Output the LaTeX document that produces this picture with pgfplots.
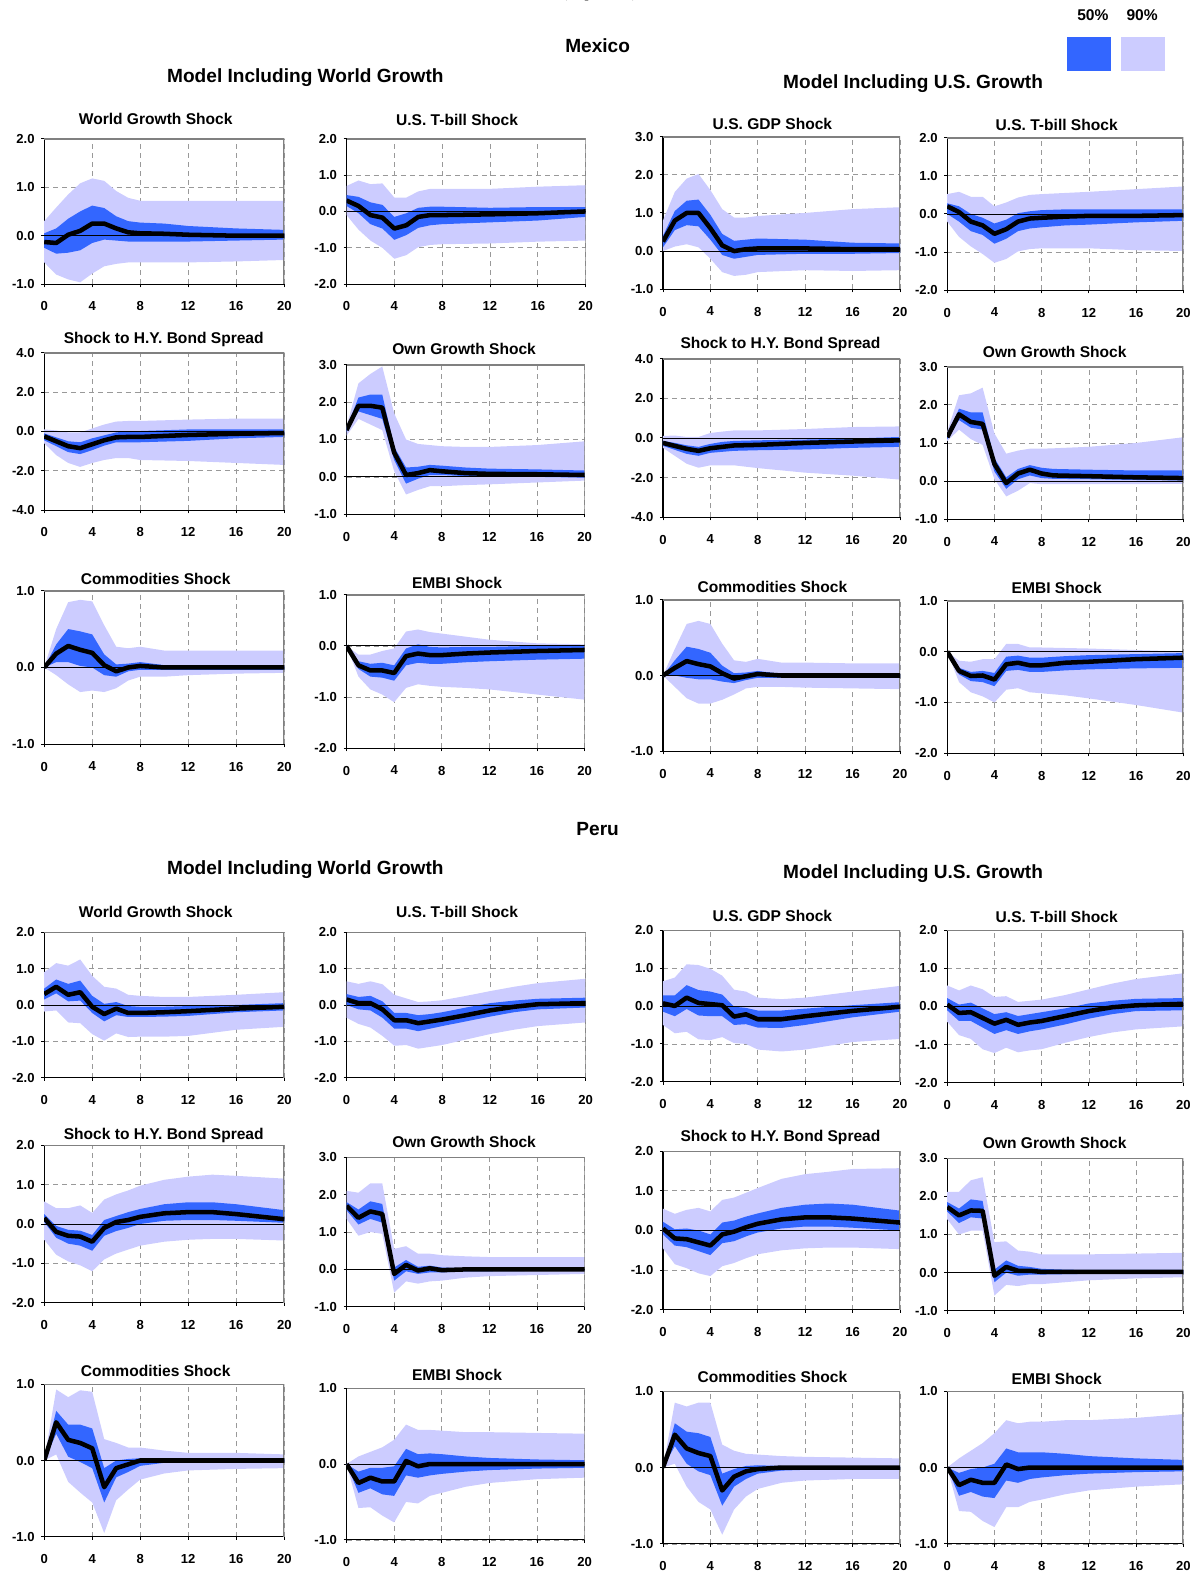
\documentclass[border=0pt]{standalone}
\usepackage{pgfplots}
\pgfplotsset{compat=1.18}
\usepackage{pgfplotstable}
\usepackage{fontspec}
\setmainfont{Liberation Sans}
\newfontfamily\serifpart{Liberation Serif}
\definecolor{blu}{RGB}{51,102,255}
\definecolor{lav}{RGB}{204,204,255}
\newcommand\ticfont{\bfseries\fontsize{13}{13}\selectfont}
\newcommand\ptfont{\bfseries\fontsize{15.5}{16}\selectfont}
\newcommand\hdfont{\bfseries\fontsize{19}{21}\selectfont}
\pgfplotsset{irf/.style={
  scale only axis, xmin=0, xmax=20, xtick={0,4,8,12,16,20},
  axis x line*=bottom, axis y line*=left,
  axis line style={draw=black, line width=1.1pt, -},
  grid=major, grid style={dash pattern=on 5pt off 4pt, draw=black!40, line width=0.7pt},
  tick style={draw=black, line width=0.9pt},
  major tick length=3pt, tick align=outside,
  /pgf/number format/assume math mode=true,
  ticklabel style={font=\ticfont},
  yticklabel style={/pgf/number format/fixed, /pgf/number format/fixed zerofill, /pgf/number format/precision=1, xshift=-3pt},
  xticklabel style={yshift=-11pt},
  every axis plot/.append style={no markers},
}}
\newcommand\panel[8]{%
\begin{axis}[irf, at={(#1pt,-#2pt)}, anchor=north west, width=#3pt, height=#4pt, ymin=#5, ymax=#6, ytick={#7}]
\addplot[draw=none, stack plots=y] table[x=x,y=l9]{#8};
\addplot[draw=none, fill=lav, stack plots=y] table[x=x,y expr=\thisrow{u9}-\thisrow{l9}]{#8} \closedcycle;
\addplot[draw=none, stack plots=y] table[x=x,y expr=\thisrow{l5}-\thisrow{u9}]{#8};
\addplot[draw=none, fill=blu, stack plots=y] table[x=x,y expr=\thisrow{u5}-\thisrow{l5}]{#8} \closedcycle;
\addplot[black!50, line width=2pt] coordinates {(0,#6) (20,#6) (20,#5)};
\addplot[black, line width=0.8pt] coordinates {(0,0) (20,0)};
\addplot[black, line width=4.5pt, line join=round] table[x=x,y=m]{#8};
\end{axis}}
% ---------------- Mexico ----------------
\pgfplotstableread{
x l9 l5 m u5 u9
0 -0.55 -0.25 -0.13 0.05 0.30
1 -0.80 -0.37 -0.15 0.15 0.58
2 -0.90 -0.35 0.02 0.35 0.85
3 -0.96 -0.30 0.10 0.50 1.08
4 -0.78 -0.15 0.25 0.62 1.18
5 -0.63 -0.08 0.25 0.57 1.13
6 -0.58 -0.10 0.15 0.40 0.92
7 -0.55 -0.12 0.07 0.30 0.78
8 -0.55 -0.12 0.05 0.27 0.72
10 -0.55 -0.12 0.04 0.25 0.72
12 -0.55 -0.12 0.02 0.20 0.72
16 -0.53 -0.10 0.00 0.15 0.72
20 -0.50 -0.08 0.00 0.12 0.72
}\MA
\pgfplotstableread{
x l9 l5 m u5 u9
0 -0.10 0.15 0.30 0.45 0.70
1 -0.50 -0.05 0.15 0.40 0.85
2 -0.80 -0.35 -0.10 0.25 0.75
3 -1.00 -0.47 -0.17 0.18 0.77
4 -1.30 -0.78 -0.47 -0.15 0.38
5 -1.20 -0.65 -0.38 -0.05 0.38
6 -0.98 -0.45 -0.15 0.10 0.55
7 -0.92 -0.38 -0.10 0.13 0.62
8 -0.90 -0.35 -0.10 0.13 0.62
12 -0.88 -0.30 -0.08 0.10 0.62
16 -0.83 -0.25 -0.05 0.12 0.68
20 -0.80 -0.15 0.00 0.12 0.72
}\MB
\pgfplotstableread{
x l9 l5 m u5 u9
0 0.00 0.10 0.25 0.40 0.80
1 0.12 0.55 0.80 1.05 1.55
2 0.18 0.68 1.00 1.32 1.90
3 0.10 0.65 1.00 1.35 2.02
4 -0.20 0.30 0.60 0.95 1.60
5 -0.55 -0.10 0.15 0.45 1.10
6 -0.65 -0.20 0.00 0.27 0.88
7 -0.62 -0.15 0.05 0.30 0.88
8 -0.55 -0.10 0.07 0.33 0.92
12 -0.50 -0.07 0.07 0.30 1.00
16 -0.52 -0.07 0.05 0.22 1.10
20 -0.50 -0.05 0.05 0.20 1.15
}\MC
\pgfplotstableread{
x l9 l5 m u5 u9
0 -0.20 0.00 0.20 0.28 0.52
1 -0.60 -0.20 0.05 0.20 0.58
2 -0.85 -0.45 -0.20 0.00 0.45
3 -1.05 -0.55 -0.30 -0.10 0.45
4 -1.28 -0.78 -0.52 -0.25 0.20
5 -1.18 -0.65 -0.40 -0.15 0.30
6 -0.98 -0.45 -0.20 0.02 0.43
7 -0.92 -0.38 -0.12 0.07 0.50
8 -0.90 -0.35 -0.10 0.10 0.52
10 -0.90 -0.30 -0.07 0.12 0.55
12 -0.90 -0.28 -0.05 0.12 0.58
16 -0.95 -0.22 -0.05 0.12 0.65
20 -0.97 -0.18 -0.03 0.12 0.72
}\MD
\pgfplotstableread{
x l9 l5 m u5 u9
0 -0.60 -0.45 -0.25 -0.10 0.10
1 -1.20 -0.75 -0.50 -0.30 0.05
2 -1.60 -1.05 -0.75 -0.50 -0.05
3 -1.80 -1.15 -0.85 -0.55 -0.05
4 -1.60 -0.95 -0.65 -0.35 0.15
5 -1.45 -0.72 -0.45 -0.20 0.35
6 -1.35 -0.55 -0.30 -0.05 0.50
7 -1.35 -0.55 -0.28 0.00 0.53
8 -1.45 -0.55 -0.28 0.02 0.53
12 -1.50 -0.48 -0.18 0.10 0.60
16 -1.60 -0.35 -0.12 0.10 0.65
20 -1.70 -0.28 -0.08 0.10 0.65
}\ME
\pgfplotstableread{
x l9 l5 m u5 u9
0 1.10 1.20 1.25 1.30 1.35
1 1.55 1.75 1.90 2.12 2.50
2 1.40 1.65 1.90 2.20 2.75
3 1.25 1.55 1.85 2.20 2.95
4 0.15 0.45 0.65 0.80 1.70
5 -0.47 -0.18 0.05 0.25 1.00
6 -0.35 -0.05 0.10 0.27 0.88
7 -0.25 0.05 0.18 0.32 0.85
8 -0.25 0.05 0.15 0.30 0.82
10 -0.22 0.02 0.10 0.25 0.80
12 -0.20 0.00 0.08 0.22 0.80
16 -0.15 0.00 0.07 0.20 0.85
20 -0.10 -0.02 0.05 0.17 0.95
}\MF
\pgfplotstableread{
x l9 l5 m u5 u9
0 -0.50 -0.40 -0.25 -0.15 0.10
1 -0.90 -0.60 -0.40 -0.25 0.12
2 -1.30 -0.80 -0.55 -0.37 0.05
3 -1.50 -0.90 -0.65 -0.45 0.05
4 -1.38 -0.75 -0.52 -0.30 0.25
5 -1.38 -0.70 -0.45 -0.20 0.32
6 -1.38 -0.65 -0.38 -0.15 0.38
8 -1.52 -0.62 -0.35 -0.12 0.38
12 -1.75 -0.58 -0.25 -0.08 0.45
16 -1.90 -0.50 -0.18 -0.03 0.55
20 -2.10 -0.45 -0.12 0.05 0.58
}\MG
\pgfplotstableread{
x l9 l5 m u5 u9
0 1.05 1.10 1.15 1.20 1.30
1 1.35 1.60 1.75 1.90 2.25
2 1.10 1.40 1.55 1.80 2.30
3 0.95 1.35 1.50 1.80 2.45
4 0.05 0.25 0.45 0.60 1.25
5 -0.40 -0.20 -0.05 0.10 0.72
6 -0.25 0.05 0.20 0.32 0.80
7 -0.05 0.15 0.30 0.42 0.85
8 -0.08 0.08 0.20 0.35 0.85
9 -0.08 0.06 0.15 0.32 0.86
12 -0.08 0.05 0.13 0.30 0.90
16 -0.08 0.03 0.10 0.28 1.00
20 -0.07 0.02 0.08 0.28 1.15
}\MH
\pgfplotstableread{
x l9 l5 m u5 u9
0 0.00 0.00 0.00 0.00 0.00
1 -0.10 0.07 0.18 0.30 0.50
2 -0.22 0.07 0.28 0.50 0.85
3 -0.32 0.02 0.23 0.47 0.88
4 -0.30 0.00 0.19 0.43 0.86
5 -0.32 -0.10 0.03 0.17 0.55
6 -0.27 -0.12 -0.05 0.04 0.27
7 -0.17 -0.05 0.00 0.05 0.25
8 -0.12 -0.03 0.02 0.07 0.27
10 -0.12 -0.03 0.00 0.03 0.22
12 -0.10 -0.03 0.00 0.02 0.22
16 -0.08 -0.03 0.00 0.02 0.22
20 -0.07 -0.03 0.00 0.02 0.22
}\MI
\pgfplotstableread{
x l9 l5 m u5 u9
0 0.00 0.00 0.00 0.00 0.00
1 -0.60 -0.45 -0.38 -0.30 -0.17
2 -0.85 -0.60 -0.48 -0.35 -0.17
3 -0.95 -0.62 -0.48 -0.33 -0.10
4 -1.10 -0.68 -0.53 -0.38 -0.05
5 -0.82 -0.38 -0.20 -0.05 0.28
6 -0.75 -0.33 -0.15 0.03 0.32
7 -0.78 -0.35 -0.18 -0.02 0.27
8 -0.80 -0.35 -0.18 -0.03 0.24
10 -0.82 -0.32 -0.15 -0.02 0.18
12 -0.85 -0.30 -0.13 -0.02 0.12
16 -0.95 -0.27 -0.10 0.00 0.05
20 -1.05 -0.25 -0.08 0.00 0.03
}\MJ
\pgfplotstableread{
x l9 l5 m u5 u9
0 0.00 0.00 0.00 0.00 0.00
1 -0.15 0.00 0.10 0.20 0.35
2 -0.30 -0.03 0.19 0.38 0.68
3 -0.37 -0.05 0.15 0.35 0.72
4 -0.37 -0.05 0.12 0.30 0.68
5 -0.32 -0.08 0.03 0.13 0.42
6 -0.25 -0.10 -0.04 0.03 0.20
7 -0.17 -0.06 -0.01 0.04 0.18
8 -0.15 -0.03 0.02 0.06 0.22
10 -0.15 -0.03 0.00 0.02 0.17
12 -0.16 -0.03 0.00 0.02 0.17
16 -0.17 -0.03 0.00 0.02 0.16
20 -0.18 -0.03 0.00 0.02 0.16
}\MK
\pgfplotstableread{
x l9 l5 m u5 u9
0 0.00 0.00 0.00 0.00 0.00
1 -0.60 -0.45 -0.38 -0.32 -0.18
2 -0.80 -0.58 -0.48 -0.40 -0.20
3 -0.88 -0.60 -0.47 -0.38 -0.15
4 -1.00 -0.68 -0.55 -0.42 -0.15
5 -0.75 -0.38 -0.25 -0.10 0.15
6 -0.72 -0.36 -0.22 -0.08 0.15
7 -0.80 -0.40 -0.27 -0.12 0.08
8 -0.82 -0.40 -0.27 -0.12 0.08
10 -0.86 -0.37 -0.22 -0.09 0.07
12 -0.92 -0.35 -0.20 -0.07 0.06
16 -1.05 -0.33 -0.15 -0.05 0.03
20 -1.20 -0.32 -0.12 -0.03 0.00
}\ML
% ---------------- Peru ----------------
\pgfplotstableread{
x l9 l5 m u5 u9
0 -0.18 0.15 0.30 0.45 0.90
1 -0.15 0.32 0.50 0.70 1.15
2 -0.48 0.10 0.28 0.58 1.08
3 -0.50 0.12 0.35 0.67 1.25
4 -0.80 -0.22 -0.05 0.25 0.80
5 -0.98 -0.45 -0.25 0.03 0.50
6 -0.78 -0.28 -0.10 0.08 0.45
7 -0.88 -0.33 -0.22 -0.03 0.28
8 -0.87 -0.33 -0.22 -0.05 0.25
10 -0.87 -0.32 -0.20 -0.05 0.22
12 -0.85 -0.30 -0.17 -0.03 0.22
16 -0.68 -0.20 -0.10 0.00 0.28
20 -0.60 -0.15 -0.05 0.05 0.35
}\PA
\pgfplotstableread{
x l9 l5 m u5 u9
0 -0.35 0.00 0.15 0.30 0.65
1 -0.52 -0.12 0.05 0.22 0.58
2 -0.62 -0.15 0.05 0.25 0.65
3 -0.85 -0.35 -0.12 0.10 0.57
4 -1.12 -0.65 -0.42 -0.22 0.28
5 -1.10 -0.65 -0.42 -0.22 0.18
6 -1.20 -0.72 -0.50 -0.28 0.08
7 -1.15 -0.65 -0.45 -0.25 0.10
8 -1.10 -0.58 -0.40 -0.20 0.13
10 -0.95 -0.45 -0.28 -0.07 0.25
12 -0.80 -0.32 -0.15 0.05 0.38
14 -0.68 -0.20 -0.05 0.12 0.50
16 -0.58 -0.12 0.02 0.17 0.60
20 -0.48 -0.07 0.05 0.20 0.72
}\PB
\pgfplotstableread{
x l9 l5 m u5 u9
0 -0.50 -0.15 0.07 0.28 0.65
1 -0.72 -0.27 0.00 0.28 0.75
2 -0.68 -0.08 0.22 0.55 1.10
3 -0.88 -0.25 0.08 0.42 1.08
4 -0.90 -0.27 0.05 0.38 0.98
5 -0.82 -0.27 0.02 0.30 0.80
6 -0.98 -0.50 -0.28 -0.02 0.43
7 -1.00 -0.48 -0.22 -0.05 0.38
8 -1.15 -0.57 -0.35 -0.12 0.22
10 -1.20 -0.58 -0.35 -0.12 0.18
12 -1.15 -0.50 -0.27 -0.07 0.22
16 -0.95 -0.30 -0.13 0.02 0.38
20 -0.87 -0.15 -0.02 0.10 0.53
}\PC
\pgfplotstableread{
x l9 l5 m u5 u9
0 -0.40 -0.10 0.05 0.22 0.55
1 -0.75 -0.38 -0.17 0.05 0.42
2 -0.85 -0.38 -0.15 0.10 0.55
3 -1.12 -0.55 -0.30 -0.05 0.45
4 -1.22 -0.72 -0.45 -0.20 0.25
5 -1.08 -0.62 -0.35 -0.15 0.27
6 -1.20 -0.72 -0.48 -0.25 0.12
7 -1.15 -0.65 -0.42 -0.20 0.15
8 -1.12 -0.60 -0.38 -0.15 0.18
10 -0.95 -0.47 -0.25 -0.05 0.30
12 -0.80 -0.32 -0.12 0.08 0.45
14 -0.68 -0.20 -0.02 0.15 0.60
16 -0.60 -0.12 0.03 0.20 0.72
20 -0.52 -0.10 0.07 0.22 0.87
}\PD
\pgfplotstableread{
x l9 l5 m u5 u9
0 -0.40 0.05 0.15 0.25 0.57
1 -0.78 -0.35 -0.20 -0.05 0.40
2 -0.95 -0.50 -0.30 -0.15 0.40
3 -1.05 -0.55 -0.32 -0.17 0.47
4 -1.20 -0.68 -0.45 -0.28 0.28
5 -0.90 -0.30 -0.10 0.10 0.62
6 -0.75 -0.18 0.05 0.20 0.75
7 -0.65 -0.10 0.10 0.30 0.85
8 -0.55 0.00 0.18 0.38 0.97
10 -0.45 0.08 0.27 0.50 1.12
12 -0.40 0.10 0.30 0.55 1.20
14 -0.38 0.10 0.30 0.55 1.25
16 -0.38 0.08 0.25 0.50 1.22
20 -0.42 0.03 0.12 0.35 1.15
}\PE
\pgfplotstableread{
x l9 l5 m u5 u9
0 1.35 1.58 1.70 1.80 2.10
1 0.90 1.20 1.38 1.60 2.05
2 1.00 1.35 1.55 1.82 2.30
3 0.95 1.25 1.48 1.75 2.30
4 -0.62 -0.30 -0.12 0.05 0.55
5 -0.32 -0.05 0.12 0.25 0.62
6 -0.38 -0.12 -0.03 0.07 0.42
7 -0.32 -0.08 0.03 0.10 0.42
8 -0.30 -0.08 -0.02 0.05 0.38
10 -0.22 -0.05 0.00 0.03 0.35
12 -0.18 -0.05 0.00 0.02 0.33
16 -0.15 -0.04 0.00 0.02 0.33
20 -0.12 -0.04 0.00 0.02 0.33
}\PF
\pgfplotstableread{
x l9 l5 m u5 u9
0 -0.45 -0.10 0.05 0.22 0.55
1 -0.85 -0.38 -0.20 0.03 0.42
2 -0.95 -0.42 -0.22 0.05 0.52
3 -1.08 -0.52 -0.30 0.00 0.57
4 -1.15 -0.62 -0.38 -0.10 0.48
5 -0.90 -0.32 -0.10 0.20 0.77
6 -0.82 -0.27 -0.03 0.25 0.83
7 -0.70 -0.15 0.08 0.35 0.95
8 -0.60 -0.05 0.17 0.43 1.07
10 -0.50 0.05 0.28 0.57 1.30
12 -0.45 0.10 0.33 0.65 1.42
14 -0.43 0.10 0.33 0.68 1.48
16 -0.43 0.07 0.30 0.65 1.55
20 -0.47 0.00 0.20 0.50 1.57
}\PG
\pgfplotstableread{
x l9 l5 m u5 u9
0 1.40 1.60 1.72 1.85 2.12
1 1.00 1.30 1.50 1.68 2.12
2 1.10 1.45 1.63 1.92 2.42
3 1.10 1.42 1.62 1.88 2.50
4 -0.60 -0.25 -0.08 0.08 0.80
5 -0.32 0.00 0.15 0.32 0.82
6 -0.35 -0.08 0.05 0.18 0.58
7 -0.30 -0.05 0.05 0.15 0.55
8 -0.30 -0.05 0.02 0.10 0.48
10 -0.25 -0.04 0.02 0.08 0.48
12 -0.20 -0.03 0.02 0.07 0.48
16 -0.15 -0.03 0.02 0.07 0.50
20 -0.12 -0.03 0.02 0.07 0.52
}\PH
\pgfplotstableread{
x l9 l5 m u5 u9
0 0.00 0.00 0.00 0.00 0.00
1 0.08 0.35 0.50 0.65 0.93
2 -0.28 0.05 0.27 0.47 0.83
3 -0.42 -0.02 0.23 0.47 0.92
4 -0.55 -0.10 0.16 0.42 0.90
5 -0.95 -0.55 -0.35 -0.10 0.28
6 -0.52 -0.22 -0.10 0.00 0.23
7 -0.38 -0.15 -0.05 0.02 0.17
8 -0.25 -0.07 0.00 0.03 0.17
10 -0.17 -0.03 0.00 0.02 0.13
12 -0.13 -0.02 0.00 0.02 0.10
16 -0.11 -0.02 0.00 0.02 0.10
20 -0.10 -0.02 0.00 0.02 0.08
}\PI
\pgfplotstableread{
x l9 l5 m u5 u9
0 0.00 0.00 0.00 0.00 0.00
1 -0.58 -0.38 -0.25 -0.10 0.10
2 -0.57 -0.32 -0.18 -0.05 0.16
3 -0.68 -0.40 -0.23 -0.05 0.22
4 -0.77 -0.42 -0.23 -0.03 0.32
5 -0.50 -0.15 0.04 0.20 0.52
6 -0.52 -0.18 -0.03 0.13 0.45
7 -0.42 -0.15 0.00 0.14 0.45
8 -0.38 -0.13 0.00 0.13 0.44
10 -0.30 -0.10 0.00 0.10 0.42
12 -0.25 -0.08 0.00 0.08 0.42
16 -0.20 -0.06 0.00 0.06 0.41
20 -0.18 -0.05 0.00 0.05 0.40
}\PJ
\pgfplotstableread{
x l9 l5 m u5 u9
0 0.00 0.00 0.00 0.00 0.00
1 0.05 0.28 0.43 0.58 0.85
2 -0.25 0.05 0.25 0.47 0.80
3 -0.45 -0.05 0.19 0.45 0.85
4 -0.55 -0.10 0.15 0.40 0.85
5 -0.88 -0.50 -0.30 -0.08 0.30
6 -0.55 -0.25 -0.12 -0.02 0.22
7 -0.38 -0.15 -0.05 0.02 0.18
8 -0.28 -0.08 -0.02 0.03 0.17
10 -0.20 -0.04 0.00 0.02 0.15
12 -0.17 -0.03 0.00 0.02 0.14
16 -0.15 -0.03 0.00 0.02 0.13
20 -0.15 -0.03 0.00 0.02 0.12
}\PK
\pgfplotstableread{
x l9 l5 m u5 u9
0 0.00 0.00 0.00 0.00 0.00
1 -0.57 -0.37 -0.23 -0.07 0.12
2 -0.58 -0.32 -0.16 -0.02 0.22
3 -0.70 -0.38 -0.20 0.00 0.32
4 -0.78 -0.40 -0.20 0.05 0.45
5 -0.52 -0.17 0.04 0.25 0.62
6 -0.52 -0.20 -0.02 0.20 0.58
7 -0.45 -0.15 0.00 0.20 0.60
8 -0.42 -0.13 0.00 0.20 0.60
10 -0.35 -0.10 0.00 0.18 0.62
12 -0.30 -0.08 0.00 0.15 0.62
16 -0.25 -0.06 0.00 0.12 0.65
20 -0.22 -0.05 0.00 0.10 0.70
}\PL
\begin{document}
\begin{tikzpicture}
\draw[white, line width=0pt] (0pt,0pt) rectangle (1197pt,-1568pt);
% headings
\node[overlay, font=\serifpart\fontsize{16}{16}\selectfont, anchor=base] at (597pt,2pt) {(In percent)};
\node[font=\hdfont] at (595pt,-45pt) {Mexico};
\node[font=\hdfont] at (304pt,-77pt) {Model Including World Growth};
\node[font=\hdfont] at (909pt,-83pt) {Model Including U.S. Growth};
\node[font=\hdfont] at (595pt,-825pt) {Peru};
\node[font=\hdfont] at (304pt,-866pt) {Model Including World Growth};
\node[font=\hdfont] at (909pt,-870pt) {Model Including U.S. Growth};
% legend
\fill[blu] (1062pt,-37pt) rectangle (1106pt,-71pt);
\fill[lav] (1116pt,-37pt) rectangle (1160pt,-71pt);
\node[font=\ptfont] at (1088pt,-15pt) {50\%};
\node[font=\ptfont] at (1137pt,-15pt) {90\%};
% Mexico panels
\panel{44}{138}{239}{145}{-1}{2}{-1,0,1,2}{\MA}
\panel{345}{138}{238}{145}{-2}{2}{-2,-1,0,1,2}{\MB}
\panel{660}{136}{236}{152}{-1}{3}{-1,0,1,2,3}{\MC}
\panel{943}{137}{235}{152}{-2}{2}{-2,-1,0,1,2}{\MD}
\panel{44}{351}{239}{157}{-4}{4}{-4,-2,0,2,4}{\ME}
\panel{345}{363}{237}{149}{-1}{3}{-1,0,1,2,3}{\MF}
\panel{660}{357}{236}{158}{-4}{4}{-4,-2,0,2,4}{\MG}
\panel{943}{365}{235}{152}{-1}{3}{-1,0,1,2,3}{\MH}
\panel{44}{588}{239}{153}{-1}{1}{-1,0,1}{\MI}
\panel{345}{592}{237}{153}{-2}{1}{-2,-1,0,1}{\MJ}
\panel{660}{597}{236}{151}{-1}{1}{-1,0,1}{\MK}
\panel{943}{598}{235}{152}{-2}{1}{-2,-1,0,1}{\ML}
% Peru panels
\panel{44}{928}{239}{145}{-2}{2}{-2,-1,0,1,2}{\PA}
\panel{345}{928}{238}{145}{-2}{2}{-2,-1,0,1,2}{\PB}
\panel{660}{926}{236}{151}{-2}{2}{-2,-1,0,1,2}{\PC}
\panel{943}{926}{235}{152}{-2}{2}{-2,-1,0,1,2}{\PD}
\panel{44}{1140}{239}{157}{-2}{2}{-2,-1,0,1,2}{\PE}
\panel{345}{1152}{237}{149}{-1}{3}{-1,0,1,2,3}{\PF}
\panel{660}{1146}{236}{158}{-2}{2}{-2,-1,0,1,2}{\PG}
\panel{943}{1153}{235}{152}{-1}{3}{-1,0,1,2,3}{\PH}
\panel{44}{1378}{239}{152}{-1}{1}{-1,0,1}{\PI}
\panel{345}{1382}{237}{151}{-1}{1}{-1,0,1}{\PJ}
\panel{660}{1385}{236}{152}{-1}{1}{-1,0,1}{\PK}
\panel{943}{1385}{235}{152}{-1}{1}{-1,0,1}{\PL}
% panel titles
\begin{scope}[every node/.style={font=\ptfont}]
\node at (155pt,-118pt) {World Growth Shock};
\node at (455pt,-119pt) {U.S. T-bill Shock};
\node at (769pt,-123pt) {U.S. GDP Shock};
\node at (1052pt,-124pt) {U.S. T-bill Shock};
\node at (163pt,-338pt) {Shock to H.Y. Bond Spread};
\node at (462pt,-347pt) {Own Growth Shock};
\node at (777pt,-343pt) {Shock to H.Y. Bond Spread};
\node at (1050pt,-350pt) {Own Growth Shock};
\node at (155pt,-576pt) {Commodities Shock};
\node at (455pt,-580pt) {EMBI Shock};
\node at (769pt,-584pt) {Commodities Shock};
\node at (1052pt,-585pt) {EMBI Shock};
\node at (155pt,-908pt) {World Growth Shock};
\node at (455pt,-908pt) {U.S. T-bill Shock};
\node at (769pt,-912pt) {U.S. GDP Shock};
\node at (1052pt,-913pt) {U.S. T-bill Shock};
\node at (163pt,-1130pt) {Shock to H.Y. Bond Spread};
\node at (462pt,-1137pt) {Own Growth Shock};
\node at (777pt,-1132pt) {Shock to H.Y. Bond Spread};
\node at (1050pt,-1138pt) {Own Growth Shock};
\node at (155pt,-1365pt) {Commodities Shock};
\node at (455pt,-1369pt) {EMBI Shock};
\node at (769pt,-1371pt) {Commodities Shock};
\node at (1052pt,-1373pt) {EMBI Shock};
\end{scope}
\end{tikzpicture}
\end{document}
